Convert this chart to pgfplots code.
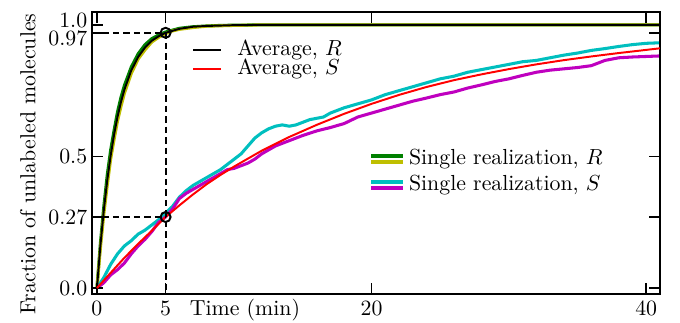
\documentclass[border=0pt]{standalone}
\usepackage{pgfplots}
\pgfplotsset{compat=1.18}
\definecolor{mplg}{rgb}{0,0.5,0}
\definecolor{mply}{rgb}{0.75,0.75,0}
\definecolor{mplc}{rgb}{0,0.75,0.75}
\definecolor{mplm}{rgb}{0.75,0,0.75}
\pgfplotsset{
  common/.style={
    scale only axis, width=260.5pt, height=129.4pt,
    xmin=-0.36, xmax=41, ymin=-0.023, ymax=1.049,
    clip=true,
  },
}
\begin{document}
\begin{tikzpicture}
% ---------- single realizations (bottom layer) ----------
\begin{axis}[common, hide axis,
  legend style={draw=none, fill=none, at={(rel axis cs:0.488,0.514)}, anchor=north west,
    inner xsep=0pt, inner ysep=0pt, column sep=1.8pt, row sep=3pt,
    nodes={inner sep=0pt, text height=6.8pt, text depth=2pt}},
  legend cell align=left,
]
\addlegendimage{legend image code/.code={
  \draw[mplg, line width=1.6pt] (0pt,1.4pt) -- (14.7pt,1.4pt);
  \draw[mply, line width=1.6pt] (0pt,-1.4pt) -- (14.7pt,-1.4pt);}}
\addlegendentry{Single realization, $R$}
\addlegendimage{legend image code/.code={
  \draw[mplc, line width=1.6pt] (0pt,1.4pt) -- (14.7pt,1.4pt);
  \draw[mplm, line width=1.6pt] (0pt,-1.4pt) -- (14.7pt,-1.4pt);}}
\addlegendentry{Single realization, $S$}
% green: single R
\addplot[mplg, line width=1.4pt, forget plot] coordinates {
(0,0) (0.25,0.17) (0.5,0.31) (0.75,0.43) (1,0.525) (1.25,0.60) (1.5,0.67) (1.75,0.725)
(2,0.77) (2.5,0.84) (3,0.89) (3.5,0.925) (4,0.948) (4.5,0.962) (5,0.973) (5.5,0.98)
(6,0.987) (7,0.993) (8,0.996) (9,0.998) (10,0.999) (12,1.0) (41,1.0)};
% yellow: single R
\addplot[mply, line width=1.4pt, forget plot] coordinates {
(0,0) (0.25,0.15) (0.5,0.28) (0.75,0.39) (1,0.49) (1.25,0.565) (1.5,0.635) (1.75,0.69)
(2,0.74) (2.5,0.815) (3,0.87) (3.5,0.905) (4,0.935) (4.5,0.953) (5,0.967) (5.5,0.977)
(6,0.983) (7,0.99) (8,0.995) (10,0.998) (12,1.0) (41,1.0)};
% cyan: single S
\addplot[mplc, line width=1.4pt, forget plot] coordinates {
(0,0) (0.5,0.04) (1,0.09) (1.5,0.13) (2,0.16) (2.5,0.18) (3,0.205) (3.5,0.22) (4,0.24)
(4.5,0.26) (5,0.285) (5.5,0.31) (6,0.345) (6.5,0.37) (7,0.39) (7.5,0.405) (8,0.42)
(8.5,0.435) (9,0.45) (9.5,0.47) (10,0.49) (10.5,0.51) (11,0.54) (11.5,0.57) (12,0.59)
(12.5,0.605) (13,0.615) (13.5,0.62) (14,0.615) (14.5,0.62) (15,0.63) (15.5,0.64)
(16,0.645) (16.5,0.65) (17,0.665) (17.5,0.675) (18,0.685) (19,0.70) (20,0.715)
(21,0.735) (22,0.75) (23,0.765) (24,0.78) (25,0.795) (26,0.805) (27,0.82) (28,0.83)
(29,0.84) (30,0.85) (31,0.86) (32,0.865) (33,0.875) (34,0.885) (35,0.893) (36,0.903)
(37,0.91) (38,0.918) (39,0.925) (40,0.93) (41,0.932)};
% magenta: single S
\addplot[mplm, line width=1.4pt, forget plot] coordinates {
(0,0) (0.5,0.02) (1,0.05) (1.5,0.07) (2,0.095) (2.5,0.13) (3,0.16) (3.5,0.185)
(4,0.215) (4.5,0.25) (5,0.27) (5.5,0.30) (6,0.34) (6.5,0.36) (7,0.375) (7.5,0.39)
(8,0.405) (8.5,0.42) (9,0.435) (9.5,0.45) (10,0.455) (10.5,0.465) (11,0.475)
(11.5,0.49) (12,0.51) (12.5,0.525) (13,0.54) (13.5,0.55) (14,0.56) (14.5,0.57)
(15,0.58) (16,0.597) (17,0.61) (18,0.625) (19,0.65) (20,0.665) (21,0.68) (22,0.695)
(23,0.71) (24,0.722) (25,0.735) (26,0.745) (27,0.76) (28,0.772) (29,0.785) (30,0.795)
(31,0.808) (32,0.82) (33,0.828) (34,0.833) (35,0.838) (36,0.845) (37,0.865)
(38,0.875) (39,0.878) (40,0.88) (41,0.882)};
\end{axis}
% ---------- averages, annotations, axis (top layer) ----------
\begin{axis}[common,
  axis line style={line width=1.1pt},
  tick align=inside, major tick length=5pt,
  every tick/.style={black, line width=0.8pt},
  xtick={0,5,20,40}, xticklabels={0,5,20,40},
  extra x ticks={10.78}, extra x tick labels={Time (min)},
  extra x tick style={major tick length=0pt},
  xticklabel style={inner sep=2pt, text height=7.5pt, text depth=2.5pt},
  ytick={0,0.27,0.5,0.97,1.0},
  yticklabels={0.0,0.27,0.5,\smash{\raisebox{-6pt}{0.97}},\smash{\raisebox{-1.1pt}{1.0}}},
  yticklabel style={inner sep=2pt},
  ylabel={Fraction of unlabeled molecules},
  every axis y label/.style={at={(axis description cs:-0.113,0.461)}, rotate=90, anchor=center},
  legend style={draw=none, fill=none, at={(rel axis cs:0.176,0.901)}, anchor=north west,
    inner xsep=0pt, inner ysep=0pt, column sep=6.9pt, row sep=0pt,
    nodes={inner sep=0pt, text height=6.8pt, text depth=2pt}},
  legend cell align=left,
  legend image code/.code={\draw[#1] (0pt,0pt) -- (12.8pt,0pt);},
]
\addplot[black, line width=0.9pt] coordinates {
(0,0) (0.25,0.161) (0.5,0.296) (0.75,0.409) (1,0.504) (1.25,0.584) (1.5,0.651)
(1.75,0.707) (2,0.754) (2.5,0.827) (3,0.878) (3.5,0.914) (4,0.940) (4.5,0.957)
(5,0.970) (6,0.985) (7,0.993) (8,0.996) (10,0.999) (12,1.0) (41,1.0)};
\addlegendentry{Average, $R$}
\addplot[red, line width=0.9pt] coordinates {
(0,0) (1,0.058) (2,0.115) (3,0.168) (4,0.218) (5,0.270) (6,0.314) (7,0.356)
(8,0.395) (9,0.430) (10,0.462) (12,0.522) (14,0.574) (16,0.620) (18,0.662)
(20,0.700) (22,0.734) (24,0.764) (26,0.790) (28,0.812) (30,0.832) (32,0.850)
(34,0.866) (36,0.880) (38,0.893) (40,0.905) (41,0.911)};
\addlegendentry{Average, $S$}
\addplot[black, line width=1pt, dash pattern=on 3pt off 1.8pt, forget plot] coordinates {(-0.36,0.97) (5,0.97) (5,-0.023)};
\addplot[black, line width=1pt, dash pattern=on 3pt off 1.8pt, forget plot] coordinates {(-0.36,0.27) (5,0.27)};
\addplot[black, only marks, mark=o, mark size=2.3pt, mark options={line width=0.9pt}, forget plot] coordinates {(5,0.97) (5,0.27)};
\coordinate (SW) at (rel axis cs:0,0);
\coordinate (NE) at (rel axis cs:1,1);
\end{axis}
\pgfresetboundingbox
\path[use as bounding box] ([xshift=-42.2pt,yshift=-12.8pt]SW) rectangle ([xshift=9.2pt,yshift=5.5pt]NE);
\end{tikzpicture}
\end{document}
